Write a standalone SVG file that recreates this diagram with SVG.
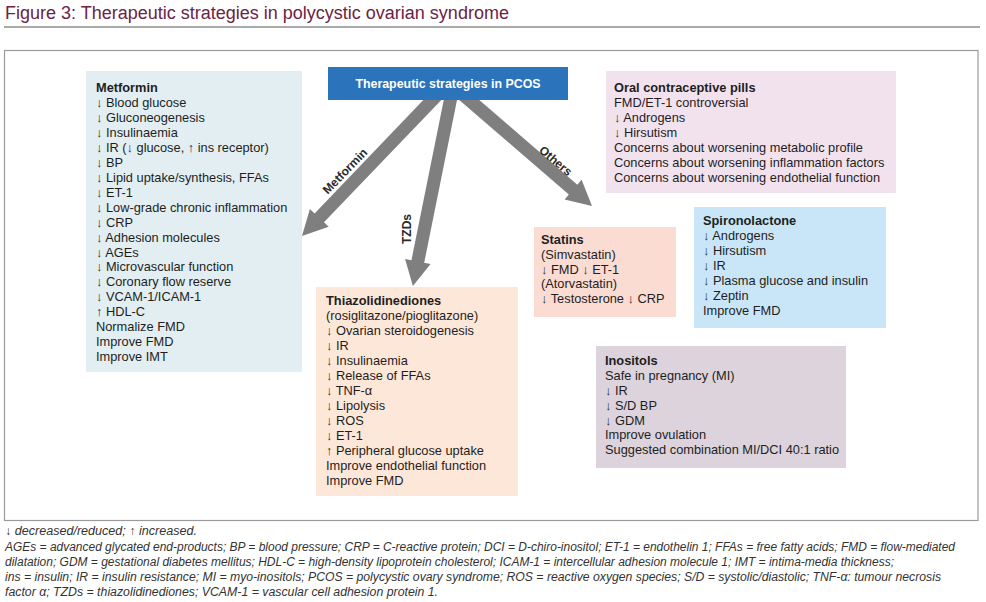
<svg xmlns="http://www.w3.org/2000/svg" width="986" height="602" viewBox="0 0 986 602">
<style>
text{font-family:"Liberation Sans",Arial,sans-serif;fill:#1e1e1e;font-size:12.8px}
.h{font-weight:bold}
.lbl{font-weight:bold;font-size:12px;fill:#2a2a2a}
.fn{font-style:italic;font-size:12px;fill:#333}
.arrow{fill:#7f7f7f}
</style>
<rect width="986" height="602" fill="#ffffff"/>
<text x="5" y="19" style="font-size:18px;fill:#6b2346">Figure 3: Therapeutic strategies in polycystic ovarian syndrome</text>
<line x1="4" y1="27" x2="980" y2="27" stroke="#555" stroke-width="1"/>
<rect x="4.5" y="50.5" width="973.5" height="470" fill="none" stroke="#9a9a9a" stroke-width="1.2"/>

<g id="connectors">
<path class="arrow" transform="translate(440,92) rotate(133.8)" d="M0,-6.5 L174.4,-6.5 L174.4,-13 L199.4,0 L174.4,13 L174.4,6.5 L0,6.5 Z"/>
<path class="arrow" transform="translate(452,92) rotate(101.4)" d="M0,-6.5 L172.9,-6.5 L172.9,-13 L197.9,0 L172.9,13 L172.9,6.5 L0,6.5 Z"/>
<path class="arrow" transform="translate(460,92) rotate(40.8)" d="M0,-6.5 L149.4,-6.5 L149.4,-13 L174.4,0 L149.4,13 L149.4,6.5 L0,6.5 Z"/>
<text class="lbl" text-anchor="middle" transform="translate(348,174) rotate(-46)">Metformin</text>
<text class="lbl" text-anchor="middle" transform="translate(411,229) rotate(-90)">TZDs</text>
<text class="lbl" text-anchor="middle" transform="translate(553,164) rotate(40)">Others</text>
</g>

<g id="title-node">
<rect x="328" y="67" width="240" height="33" fill="#2b73ba"/>
<text x="448" y="88" text-anchor="middle" class="h" style="fill:#ffffff;font-size:12.4px">Therapeutic strategies in PCOS</text>
</g>

<g id="metformin">
<rect x="86" y="71" width="216" height="301" fill="#e2eef2"/>
<text x="96" y="92" class="h">Metformin</text>
<text x="96" y="107">↓ Blood glucose</text>
<text x="96" y="122">↓ Gluconeogenesis</text>
<text x="96" y="137">↓ Insulinaemia</text>
<text x="96" y="152">↓ IR (↓ glucose, ↑ ins receptor)</text>
<text x="96" y="167">↓ BP</text>
<text x="96" y="182">↓ Lipid uptake/synthesis, FFAs</text>
<text x="96" y="197">↓ ET-1</text>
<text x="96" y="212">↓ Low-grade chronic inflammation</text>
<text x="96" y="227">↓ CRP</text>
<text x="96" y="242">↓ Adhesion molecules</text>
<text x="96" y="257">↓ AGEs</text>
<text x="96" y="271">↓ Microvascular function</text>
<text x="96" y="286">↓ Coronary flow reserve</text>
<text x="96" y="301">↓ VCAM-1/ICAM-1</text>
<text x="96" y="316">↑ HDL-C</text>
<text x="96" y="331">Normalize FMD</text>
<text x="96" y="346">Improve FMD</text>
<text x="96" y="361">Improve IMT</text>
</g>

<g id="ocp">
<rect x="606" y="71" width="290" height="122" fill="#f2e2ee"/>
<text x="614" y="92" class="h">Oral contraceptive pills</text>
<text x="614" y="107">FMD/ET-1 controversial</text>
<text x="614" y="122">↓ Androgens</text>
<text x="614" y="137">↓ Hirsutism</text>
<text x="614" y="152">Concerns about worsening metabolic profile</text>
<text x="614" y="167">Concerns about worsening inflammation factors</text>
<text x="614" y="182">Concerns about worsening endothelial function</text>
</g>

<g id="statins">
<rect x="534" y="227" width="142" height="90" fill="#fbdcd3"/>
<text x="541" y="244" class="h">Statins</text>
<text x="541" y="259">(Simvastatin)</text>
<text x="541" y="274">↓ FMD ↓ ET-1</text>
<text x="541" y="288">(Atorvastatin)</text>
<text x="541" y="303">↓ Testosterone ↓ CRP</text>
</g>

<g id="spironolactone">
<rect x="694" y="207" width="192" height="121" fill="#c9e6f8"/>
<text x="703" y="225" class="h">Spironolactone</text>
<text x="703" y="240">↓ Androgens</text>
<text x="703" y="255">↓ Hirsutism</text>
<text x="703" y="270">↓ IR</text>
<text x="703" y="285">↓ Plasma glucose and insulin</text>
<text x="703" y="300">↓ Zeptin</text>
<text x="703" y="315">Improve FMD</text>
</g>

<g id="tzd">
<rect x="316" y="287" width="202" height="209" fill="#fde7d8"/>
<text x="326" y="305" class="h">Thiazolidinediones</text>
<text x="326" y="320">(rosiglitazone/pioglitazone)</text>
<text x="326" y="335">↓ Ovarian steroidogenesis</text>
<text x="326" y="350">↓ IR</text>
<text x="326" y="365">↓ Insulinaemia</text>
<text x="326" y="380">↓ Release of FFAs</text>
<text x="326" y="395">↓ TNF-α</text>
<text x="326" y="410">↓ Lipolysis</text>
<text x="326" y="425">↓ ROS</text>
<text x="326" y="440">↓ ET-1</text>
<text x="326" y="455">↑ Peripheral glucose uptake</text>
<text x="326" y="470">Improve endothelial function</text>
<text x="326" y="485">Improve FMD</text>
</g>

<g id="inositols">
<rect x="596" y="346" width="250" height="122" fill="#dcd3dc"/>
<text x="605" y="365" class="h">Inositols</text>
<text x="605" y="380">Safe in pregnancy (MI)</text>
<text x="605" y="395">↓ IR</text>
<text x="605" y="410">↓ S/D BP</text>
<text x="605" y="425">↓ GDM</text>
<text x="605" y="439">Improve ovulation</text>
<text x="605" y="454">Suggested combination MI/DCI 40:1 ratio</text>
</g>

<g id="footnotes">
<text x="5" y="535" class="fn" textLength="192" lengthAdjust="spacingAndGlyphs">↓ decreased/reduced; ↑ increased.</text>
<text x="5" y="551" class="fn" textLength="950" lengthAdjust="spacingAndGlyphs">AGEs = advanced glycated end-products; BP = blood pressure; CRP = C-reactive protein; DCI = D-chiro-inositol; ET-1 = endothelin 1; FFAs = free fatty acids; FMD = flow-mediated</text>
<text x="5" y="566" class="fn" textLength="889" lengthAdjust="spacingAndGlyphs">dilatation; GDM = gestational diabetes mellitus; HDL-C = high-density lipoprotein cholesterol; ICAM-1 = intercellular adhesion molecule 1; IMT = intima-media thickness;</text>
<text x="5" y="581" class="fn" textLength="936" lengthAdjust="spacingAndGlyphs">ins = insulin; IR = insulin resistance; MI = myo-inositols; PCOS = polycystic ovary syndrome; ROS = reactive oxygen species; S/D = systolic/diastolic; TNF-α: tumour necrosis</text>
<text x="5" y="596" class="fn" textLength="433" lengthAdjust="spacingAndGlyphs">factor α; TZDs = thiazolidinediones; VCAM-1 = vascular cell adhesion protein 1.</text>
</g>
</svg>
